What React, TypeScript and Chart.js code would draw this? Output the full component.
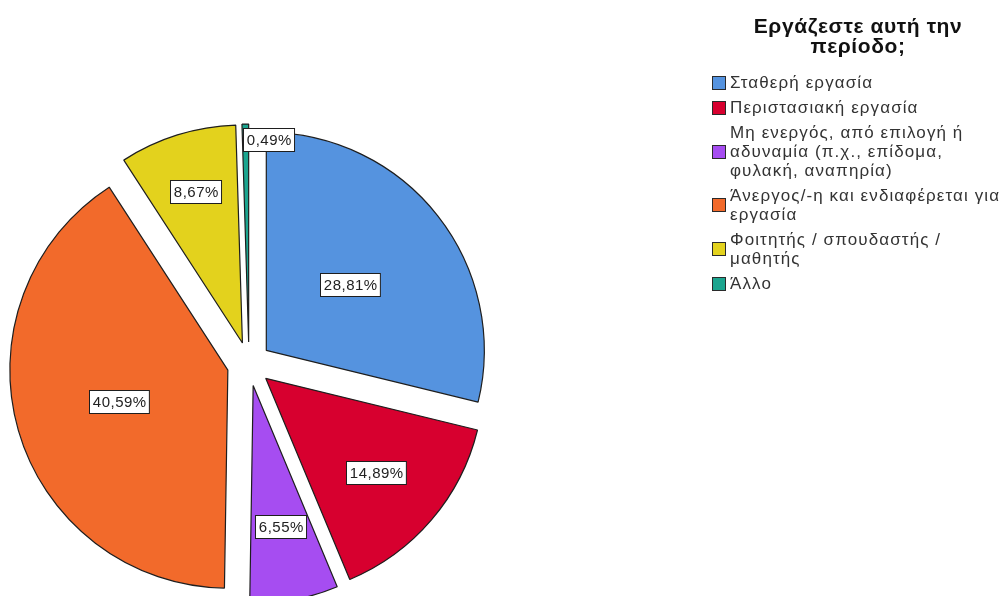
import React, { useEffect, useRef } from 'react';
import { Chart, registerables } from 'chart.js';

Chart.register(...registerables);

// ---------- data ----------
const TITLE_LINES: string[] = ['Εργάζεστε αυτή την', 'περίοδο;'];
const CATEGORIES: string[][] = [
  ['Σταθερή εργασία'],
  ['Περιστασιακή εργασία'],
  ['Μη ενεργός, από επιλογή ή', 'αδυναμία (π.χ., επίδομα,', 'φυλακή, αναπηρία)'],
  ['Άνεργος/-η και ενδιαφέρεται για', 'εργασία'],
  ['Φοιτητής / σπουδαστής /', 'μαθητής'],
  ['Άλλο'],
];
const PERCENTAGES: number[] = [28.81, 14.89, 6.55, 40.59, 8.67, 0.49];
const COLORS: string[] = ['#5593DF', '#D7002F', '#A64DF1', '#F26A2B', '#E3D21D', '#1BA58F'];

// ---------- layout / style ----------
const EXPLODE = 22;
const RADIUS = 218;
const FONT = '"Liberation Sans", Arial, sans-serif';
// label distance from slice apex, as a fraction of the radius (null = outside label)
const LABEL_RADIUS_FRACTION: (number | null)[] = [0.49, 0.665, 0.656, 0.52, 0.726, null];

const fmt = (v: number) => v.toFixed(2).replace('.', ',') + '%';

function arcGeom(el: any) {
  const mid = (el.startAngle + el.endAngle) / 2;
  const cx = el.x + Math.cos(mid) * EXPLODE;
  const cy = el.y + Math.sin(mid) * EXPLODE;
  return { mid, cx, cy, r: el.outerRadius };
}

const explodePlugin = {
  id: 'explodeSlices',
  beforeDatasetsDraw(chart: any) {
    const meta = chart.getDatasetMeta(0);
    meta.data.forEach((el: any) => {
      if (el.__wrapped) return;
      const orig = el.draw;
      el.draw = function (ctx: CanvasRenderingContext2D, area: any) {
        const mid = (this.startAngle + this.endAngle) / 2;
        ctx.save();
        ctx.translate(Math.cos(mid) * EXPLODE, Math.sin(mid) * EXPLODE);
        orig.call(this, ctx, area);
        ctx.restore();
      };
      el.__wrapped = true;
    });
  },
};

const valueLabelPlugin = {
  id: 'valueLabels',
  afterDatasetsDraw(chart: any) {
    const ctx: CanvasRenderingContext2D = chart.ctx;
    const meta = chart.getDatasetMeta(0);
    const values = chart.data.datasets[0].data as number[];
    ctx.save();
    ctx.font = '15px ' + FONT;
    (ctx as any).letterSpacing = '0.5px';
    ctx.textBaseline = 'middle';
    ctx.textAlign = 'center';
    meta.data.forEach((el: any, i: number) => {
      const g = arcGeom(el);
      const text = fmt(values[i]);
      const tw = ctx.measureText(text).width;
      const bw = tw + 6;
      const bh = 23;
      let bx: number, by: number;
      const f = LABEL_RADIUS_FRACTION[i];
      if (f == null) {
        const ox = g.cx + Math.cos(g.mid) * g.r;
        const oy = g.cy + Math.sin(g.mid) * g.r;
        bx = ox - 2;
        by = oy + 4;
      } else {
        const d = f * g.r;
        const lx = g.cx + Math.cos(g.mid) * d;
        const ly = g.cy + Math.sin(g.mid) * d;
        bx = lx - bw / 2;
        by = ly - bh / 2;
      }
      bx = Math.round(bx) + 0.5;
      by = Math.round(by) + 0.5;
      ctx.fillStyle = '#ffffff';
      ctx.fillRect(bx, by, bw, bh);
      ctx.strokeStyle = '#1e1e1e';
      ctx.lineWidth = 1;
      ctx.strokeRect(bx, by, bw, bh);
      ctx.fillStyle = '#222222';
      ctx.fillText(text, bx + bw / 2 + 0.3, by + bh / 2 + 1);
    });
    ctx.restore();
  },
};

const legendPlugin = {
  id: 'spssLegend',
  afterDraw(chart: any) {
    const ctx: CanvasRenderingContext2D = chart.ctx;
    const labels = chart.data.labels as string[][];
    const colors = chart.data.datasets[0].backgroundColor as string[];
    ctx.save();
    ctx.fillStyle = '#111111';
    ctx.font = 'bold 21px ' + FONT;
    (ctx as any).letterSpacing = '0.6px';
    ctx.textAlign = 'center';
    ctx.textBaseline = 'middle';
    TITLE_LINES.forEach((t, i) => ctx.fillText(t, 858, 27 + i * 20));

    ctx.font = '17px ' + FONT;
    (ctx as any).letterSpacing = '1.1px';
    ctx.textAlign = 'left';
    const lineH = 19;
    const gap = 6;
    let y = 82;
    labels.forEach((lines, i) => {
      const n = lines.length;
      const centerY = y + ((n - 1) * lineH) / 2;
      const bs = 13;
      const by = Math.round(centerY - bs / 2) + 0.5;
      ctx.fillStyle = colors[i];
      ctx.fillRect(712.5, by, bs, bs);
      ctx.strokeStyle = '#2a2a2a';
      ctx.lineWidth = 1;
      ctx.strokeRect(712.5, by, bs, bs);
      ctx.fillStyle = '#333333';
      lines.forEach((t, j) => ctx.fillText(t, 730, y + j * lineH + 1));
      y += n * lineH + gap;
    });
    ctx.restore();
  },
};

export default function App() {
  const canvasRef = useRef<HTMLCanvasElement | null>(null);

  useEffect(() => {
    if (!canvasRef.current) return;
    const chart = new Chart(canvasRef.current, {
      type: 'pie',
      data: {
        labels: CATEGORIES as any,
        datasets: [
          {
            data: PERCENTAGES,
            backgroundColor: COLORS,
            borderColor: '#1e1e1e',
            borderWidth: 1.2,
            clip: false as any,
          } as any,
        ],
      },
      options: {
        responsive: false,
        animation: false,
        radius: RADIUS,
        layout: { padding: { left: 0, right: 509, top: 132, bottom: 0 } },
        plugins: {
          legend: { display: false },
          tooltip: { enabled: false },
          title: { display: false },
        },
      } as any,
      plugins: [explodePlugin, valueLabelPlugin, legendPlugin],
    });
    return () => chart.destroy();
  }, []);

  return (
    <div style={{ position: 'absolute', left: 0, top: 0, width: 1007, height: 596, background: '#ffffff' }}>
      <canvas ref={canvasRef} width={1007} height={596} style={{ display: 'block' }} />
    </div>
  );
}
